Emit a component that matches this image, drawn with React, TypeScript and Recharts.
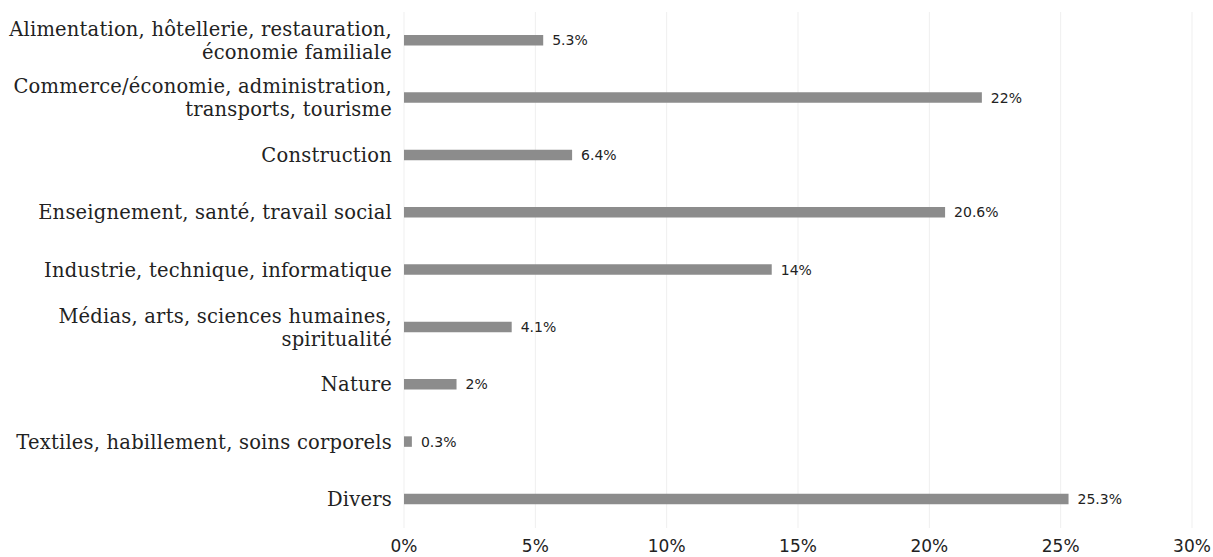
import { BarChart, Bar, XAxis, YAxis, CartesianGrid, LabelList } from 'recharts';

const CATEGORIES = [
  'Alimentation, hôtellerie, restauration,\néconomie familiale',
  'Commerce/économie, administration,\ntransports, tourisme',
  'Construction',
  'Enseignement, santé, travail social',
  'Industrie, technique, informatique',
  'Médias, arts, sciences humaines,\nspiritualité',
  'Nature',
  'Textiles, habillement, soins corporels',
  'Divers',
];

const SHARES = [5.3, 22, 6.4, 20.6, 14, 4.1, 2, 0.3, 25.3];

const X_TICKS = [0, 5, 10, 15, 20, 25, 30];

const data = CATEGORIES.map((name, i) => ({ name, value: SHARES[i] }));

const LINE_HEIGHT = 23;
const CAP_HALF = 6.8;

function CategoryTick(props: any) {
  const { x, y, payload } = props;
  const lines = String(payload.value).split('\n');
  const first = y + CAP_HALF - ((lines.length - 1) * LINE_HEIGHT) / 2;
  return (
    <text
      x={x}
      y={first}
      textAnchor="end"
      fill="#222"
      style={{ fontFamily: '"DejaVu Serif", serif', fontSize: 19.5, letterSpacing: 0.2 }}
    >
      {lines.map((line, i) => (
        <tspan key={i} x={x} y={first + i * LINE_HEIGHT}>
          {line}
        </tspan>
      ))}
    </text>
  );
}

export default function App() {
  return (
    <div style={{ position: 'absolute', left: 0, top: 0, background: '#fff' }}>
      <BarChart
        width={1213}
        height={557}
        data={data}
        layout="vertical"
        margin={{ top: 12, right: 21, bottom: 0, left: 0 }}
        barCategoryGap={0}
      >
        <CartesianGrid horizontal={false} stroke="#efefef" strokeWidth={1} />
        <XAxis
          type="number"
          domain={[0, 30]}
          ticks={X_TICKS}
          tickFormatter={(v: number) => `${v}%`}
          axisLine={false}
          tickLine={false}
          tickSize={0}
          tickMargin={12}
          height={29}
          interval={0}
          tick={{ fill: '#222', fontSize: 17, fontFamily: '"DejaVu Sans", sans-serif' }}
        />
        <YAxis
          type="category"
          dataKey="name"
          width={404}
          axisLine={false}
          tickLine={false}
          tickSize={0}
          tickMargin={12}
          interval={0}
          tick={<CategoryTick />}
        />
        <Bar dataKey="value" fill="#8c8c8c" barSize={10.5} isAnimationActive={false}>
          <LabelList
            dataKey="value"
            position="right"
            offset={9}
            formatter={(v: number) => `${v}%`}
            style={{ fill: '#222', fontSize: 14, fontFamily: '"DejaVu Sans", sans-serif' }}
          />
        </Bar>
      </BarChart>
    </div>
  );
}
